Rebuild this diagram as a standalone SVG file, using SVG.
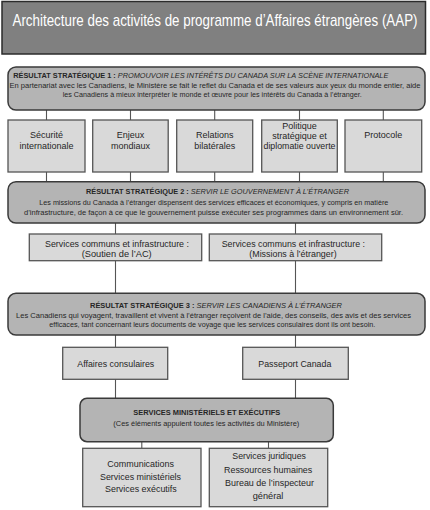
<svg xmlns="http://www.w3.org/2000/svg" width="430" height="510" viewBox="0 0 430 510">
<style>
.t{font-family:"Liberation Sans",Arial,sans-serif;fill:#262626}
.sr{fill:#b4b4b4;stroke:#3a3a3a;stroke-width:1.5}
.bx{fill:#d9d9d9;stroke:#555;stroke-width:1.3}
.c{stroke:#555;stroke-width:1.1;fill:none}
.s8{font-size:8px}
.s9{font-size:9px}
.m{text-anchor:middle}
.b{font-weight:bold}
.i{font-style:italic}
</style>
<rect width="430" height="510" fill="#ffffff"/>
<g id="connectors">
<path class="c" d="M46.5 110V120M130.5 110V120M214.7 110V120M299.5 110V120M383.3 110V120"/>
<path class="c" d="M46.5 172V182M130.5 172V182M214.7 172V182M299.5 172V182M383.3 172V182"/>
<path class="c" d="M115.5 223V234M295.5 223V234M115.5 261V293M295.5 261V293"/>
<path class="c" d="M115.5 335V347M295.5 335V347M115.5 379V398M295.5 379V398"/>
<path class="c" d="M141.8 442V448M268.5 442V448"/>
</g>
<g id="title">
<rect x="2" y="1.5" width="423.5" height="52.5" fill="#808080" stroke="#2b2b2b" stroke-width="1.5"/>
<text class="t" transform="translate(215,26) scale(0.78,1)" x="-259.6" y="0" font-size="16" style="fill:#ffffff" textLength="519.2" lengthAdjust="spacingAndGlyphs">Architecture des activités de programme d’Affaires étrangères (AAP)</text>
</g>
<g id="sr1">
<rect class="sr" x="8" y="67" width="417" height="43" rx="8"/>
<text class="t s8" x="13.3" y="77.7" textLength="375" lengthAdjust="spacingAndGlyphs"><tspan class="b">RÉSULTAT STRATÉGIQUE 1 : </tspan><tspan class="i">PROMOUVOIR LES INTÉRÊTS DU CANADA SUR LA SCÈNE INTERNATIONALE</tspan></text>
<text class="t s8" transform="translate(215,87.5) scale(0.88,1)" x="-233.5" y="0" textLength="467" lengthAdjust="spacingAndGlyphs">En partenariat avec les Canadiens, le Ministère se fait le reflet du Canada et de ses valeurs aux yeux du monde entier, aide</text>
<text class="t s8" x="62.7" y="97" textLength="299" lengthAdjust="spacingAndGlyphs">les Canadiens à mieux interpréter le monde et œuvre pour les intérêts du Canada à l’étranger.</text>
</g>
<g id="securite">
<rect class="bx" x="8" y="120" width="77" height="52"/>
<text class="t s9 m" x="46.5" y="138">Sécurité</text>
<text class="t s9 m" x="46.5" y="148.7">internationale</text>
</g>
<g id="enjeux">
<rect class="bx" x="92.7" y="120" width="75.5" height="52"/>
<text class="t s9 m" x="130.5" y="138">Enjeux</text>
<text class="t s9 m" x="130.5" y="148.7">mondiaux</text>
</g>
<g id="relations">
<rect class="bx" x="176.7" y="120" width="76" height="52"/>
<text class="t s9 m" x="214.7" y="138">Relations</text>
<text class="t s9 m" x="214.7" y="148.7">bilatérales</text>
</g>
<g id="politique">
<rect class="bx" x="261.7" y="120" width="75.6" height="52"/>
<text class="t s9 m" x="299.5" y="129.3">Politique</text>
<text class="t s9 m" x="299.5" y="139.3">stratégique et</text>
<text class="t s9 m" x="299.5" y="149.3" textLength="72" lengthAdjust="spacingAndGlyphs">diplomatie ouverte</text>
</g>
<g id="protocole">
<rect class="bx" x="345" y="120" width="76.7" height="52"/>
<text class="t s9 m" x="383.3" y="138">Protocole</text>
</g>
<g id="sr2">
<rect class="sr" x="8" y="181.7" width="417" height="41.3" rx="8"/>
<text class="t s8" x="86" y="194.3" textLength="263" lengthAdjust="spacingAndGlyphs"><tspan class="b">RÉSULTAT STRATÉGIQUE 2 : </tspan><tspan class="i">SERVIR LE GOUVERNEMENT À L’ÉTRANGER</tspan></text>
<text class="t s8" x="39.3" y="204.7" textLength="349" lengthAdjust="spacingAndGlyphs">Les missions du Canada à l’étranger dispensent des services efficaces et économiques, y compris en matière</text>
<text class="t s8" x="24" y="215" textLength="379" lengthAdjust="spacingAndGlyphs">d’infrastructure, de façon à ce que le gouvernement puisse exécuter ses programmes dans un environnement sûr.</text>
</g>
<g id="soutien-ac">
<rect class="bx" x="29.3" y="234" width="172.4" height="26.7"/>
<text class="t s9" x="45" y="246.5" textLength="144" lengthAdjust="spacingAndGlyphs">Services communs et infrastructure :</text>
<text class="t s9" x="81.7" y="257" textLength="70" lengthAdjust="spacingAndGlyphs">(Soutien de l’AC)</text>
</g>
<g id="missions">
<rect class="bx" x="209.3" y="234" width="172.4" height="26.7"/>
<text class="t s9" x="221.7" y="246.5" textLength="143.3" lengthAdjust="spacingAndGlyphs">Services communs et infrastructure :</text>
<text class="t s9" x="249.3" y="257" textLength="87.3" lengthAdjust="spacingAndGlyphs">(Missions à l’étranger)</text>
</g>
<g id="sr3">
<rect class="sr" x="8" y="293.3" width="417" height="41.7" rx="8"/>
<text class="t s8" x="90" y="307.7" textLength="252" lengthAdjust="spacingAndGlyphs"><tspan class="b">RÉSULTAT STRATÉGIQUE 3 : </tspan><tspan class="i">SERVIR LES CANADIENS À L’ÉTRANGER</tspan></text>
<text class="t s8" transform="translate(213.5,317.7) scale(0.88,1)" x="-224.4" y="0" textLength="448.8" lengthAdjust="spacingAndGlyphs">Les Canadiens qui voyagent, travaillent et vivent à l’étranger reçoivent de l’aide, des conseils, des avis et des services</text>
<text class="t s8" x="49.3" y="327.3" textLength="326" lengthAdjust="spacingAndGlyphs">efficaces, tant concernant leurs documents de voyage que les services consulaires dont ils ont besoin.</text>
</g>
<g id="affaires-consulaires">
<rect class="bx" x="62.7" y="347.3" width="105" height="32"/>
<text class="t s9" x="77.3" y="366.5" textLength="77" lengthAdjust="spacingAndGlyphs">Affaires consulaires</text>
</g>
<g id="passeport">
<rect class="bx" x="242.7" y="347.3" width="105.6" height="32"/>
<text class="t s9" x="258.3" y="366.5" textLength="73" lengthAdjust="spacingAndGlyphs">Passeport Canada</text>
</g>
<g id="services-ministeriels">
<rect class="sr" x="80" y="398.3" width="253.3" height="43.4" rx="7"/>
<text class="t s8 b" x="133.3" y="415.3" textLength="147" lengthAdjust="spacingAndGlyphs">SERVICES MINISTÉRIELS ET EXÉCUTIFS</text>
<text class="t s8" x="113.3" y="426" textLength="186" lengthAdjust="spacingAndGlyphs">(Ces éléments appuient toutes les activités du Ministère)</text>
</g>
<g id="communications">
<rect class="bx" x="82.7" y="448.3" width="118.3" height="58.4"/>
<text class="t s9" x="107.3" y="467" textLength="66.7" lengthAdjust="spacingAndGlyphs">Communications</text>
<text class="t s9" x="100" y="479.5" textLength="81" lengthAdjust="spacingAndGlyphs">Services ministériels</text>
<text class="t s9" x="105" y="492.3" textLength="71.7" lengthAdjust="spacingAndGlyphs">Services exécutifs</text>
</g>
<g id="juridiques">
<rect class="bx" x="209.3" y="448.3" width="118.4" height="58.4"/>
<text class="t s9" x="232.3" y="459.3" textLength="73.7" lengthAdjust="spacingAndGlyphs">Services juridiques</text>
<text class="t s9" x="224" y="472.8" textLength="88.3" lengthAdjust="spacingAndGlyphs">Ressources humaines</text>
<text class="t s9" x="225" y="486" textLength="89" lengthAdjust="spacingAndGlyphs">Bureau de l’inspecteur</text>
<text class="t s9" x="252.7" y="499.3" textLength="30.7" lengthAdjust="spacingAndGlyphs">général</text>
</g>
</svg>
